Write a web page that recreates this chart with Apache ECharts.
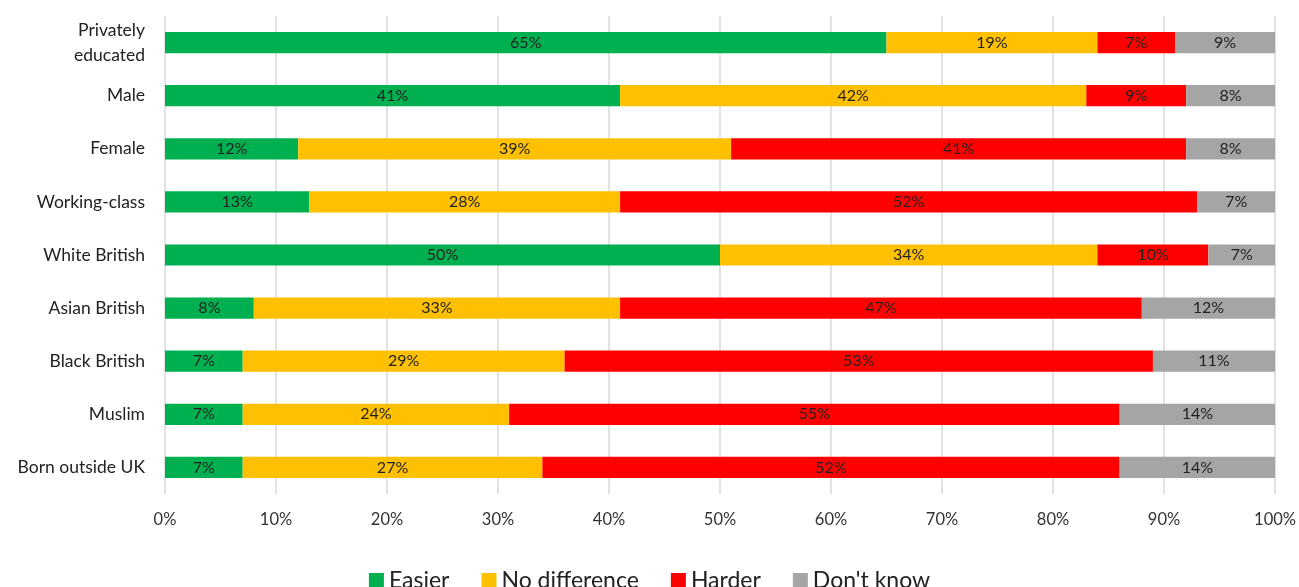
<!DOCTYPE html>
<html><head><meta charset="utf-8">
<script src="https://cdn.jsdelivr.net/npm/echarts@6/dist/echarts.min.js"></script>
<style>html,body{margin:0;padding:0;background:#fff}#c{width:1299px;height:587px}</style>
</head><body><div id="c"></div>
<script>
const categories = ["Privately\neducated","Male","Female","Working-class","White British","Asian British","Black British","Muslim","Born outside UK"];
const easier = [65,41,12,13,50,8,7,7,7];
const noDifference = [19,42,39,28,34,33,29,24,27];
const harder = [7,9,41,52,10,47,53,55,52];
const dontKnow = [9,8,8,7,7,12,11,14,14];
const xTicks = [0,10,20,30,40,50,60,70,80,90,100];

const font = "Lato, 'Open Sans', sans-serif";
const chart = echarts.init(document.getElementById('c'), null, {renderer:'canvas'});
function s(name, data, color){
  return {name, type:'bar', stack:'t', data, barWidth:'40%',
    itemStyle:{color},
    label:{show:true, position:'inside', formatter:p=>p.value+'%', color:'#222', fontFamily:font, fontSize:16}};
}
chart.setOption({
  animation:false,
  textStyle:{fontFamily:font},
  grid:{left:165, right:23, top:16, bottom:93, containLabel:false},
  xAxis:{type:'value', min:xTicks[0], max:xTicks[xTicks.length-1], interval:10,
    axisLabel:{formatter:v=>v+'%', color:'#333', fontSize:16.5, margin:17, fontFamily:font},
    axisLine:{show:false}, axisTick:{show:false},
    splitLine:{show:true, lineStyle:{color:'#d9d9d9', width:1.5}}},
  yAxis:{type:'category', data:categories, inverse:true,
    axisLine:{show:false}, axisTick:{show:false},
    axisLabel:{color:'#222', fontSize:17.5, margin:20, lineHeight:25, fontFamily:font}},
  legend:{bottom:-10, left:'center', itemWidth:15, itemHeight:15, itemGap:32, icon:'rect',
    textStyle:{fontSize:23, color:'#222', fontFamily:font},
    data:['Easier','No difference','Harder',"Don't know"]},
  series:[s('Easier',easier,'#00B050'), s('No difference',noDifference,'#FFC000'), s('Harder',harder,'#FF0000'), s("Don't know",dontKnow,'#A5A5A5')]
});
</script></body></html>
